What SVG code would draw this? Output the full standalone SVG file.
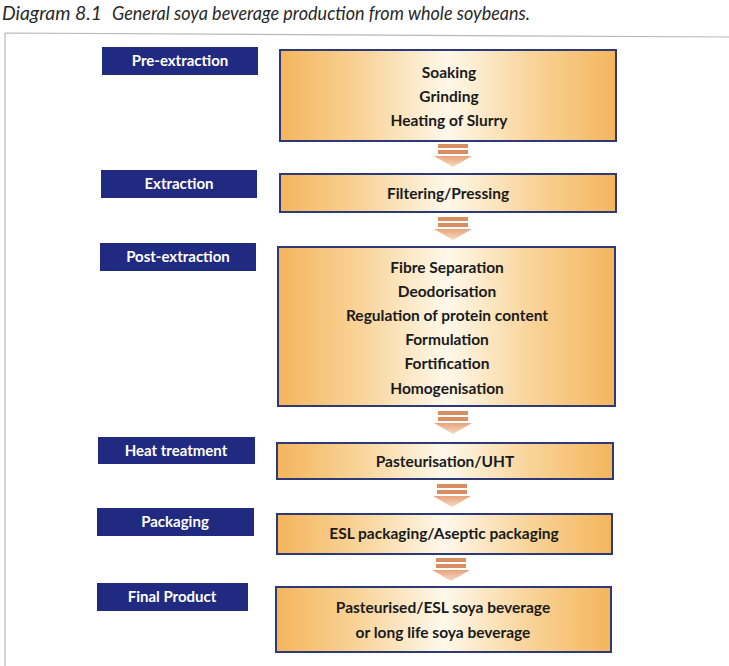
<svg xmlns="http://www.w3.org/2000/svg" width="729" height="666" viewBox="0 0 729 666">
<defs>
<linearGradient id="g" x1="0" y1="0" x2="1" y2="0">
<stop offset="0" stop-color="#f4b55c"/>
<stop offset="0.25" stop-color="#f9d49a"/>
<stop offset="0.5" stop-color="#fef8ea"/>
<stop offset="0.75" stop-color="#f9d49a"/>
<stop offset="1" stop-color="#f4b55c"/>
</linearGradient>
<linearGradient id="ag" x1="0" y1="0" x2="0" y2="1">
<stop offset="0" stop-color="#e8a27a"/>
<stop offset="1" stop-color="#f6dcc4"/>
</linearGradient>
<g id="arrow">
<rect x="-15" y="0" width="30" height="4" fill="#d98e62"/>
<rect x="-15" y="6" width="30" height="4" fill="#d98e62"/>
<polygon points="-19,12 19,12 0,23" fill="url(#ag)"/>
</g>
</defs>
<style>
.lab rect{fill:#1f2a80}
.lab text{fill:#fff;font-family:Lato,"Liberation Sans",sans-serif;font-weight:bold;font-size:15px;text-anchor:middle}
.box rect{fill:url(#g);stroke:#2e3a78;stroke-width:2}
.box text{fill:#1a1a1a;font-family:Lato,"Liberation Sans",sans-serif;font-weight:bold;font-size:15.5px;text-anchor:middle}
.title{font-family:Lato,"Liberation Sans",sans-serif;font-style:italic;font-size:18.5px;fill:#2a2a2a}
</style>
<rect width="729" height="666" fill="#ffffff"/>
<g id="title">
<text class="title" x="2" y="20" textLength="100" lengthAdjust="spacingAndGlyphs">Diagram 8.1</text>
<text class="title" x="112" y="20" textLength="418" lengthAdjust="spacingAndGlyphs">General soya beverage production from whole soybeans.</text>
</g>
<path d="M5 33 L729 37 M5 33 L5 666" stroke="#b8b8b8" stroke-width="1.2" fill="none"/>

<g id="label-pre" class="lab"><rect x="102" y="47" width="156" height="28"/><text x="180" y="66">Pre-extraction</text></g>
<g id="label-ext" class="lab"><rect x="101" y="170" width="156" height="28"/><text x="179" y="189">Extraction</text></g>
<g id="label-post" class="lab"><rect x="100" y="243" width="156" height="28"/><text x="178" y="262">Post-extraction</text></g>
<g id="label-heat" class="lab"><rect x="98" y="437" width="157" height="27"/><text x="176" y="456">Heat treatment</text></g>
<g id="label-pack" class="lab"><rect x="97" y="508" width="157" height="28"/><text x="175" y="527">Packaging</text></g>
<g id="label-final" class="lab"><rect x="97" y="583" width="151" height="28"/><text x="172" y="602">Final Product</text></g>

<g id="box-pre" class="box"><rect x="280" y="50" width="336" height="91"/>
<text x="449" y="78">Soaking</text><text x="449" y="102">Grinding</text><text x="449" y="126">Heating of Slurry</text></g>
<g id="box-ext" class="box"><rect x="280" y="174" width="336" height="38"/>
<text x="448" y="199">Filtering/Pressing</text></g>
<g id="box-post" class="box"><rect x="278" y="247" width="337" height="159"/>
<text x="447" y="273">Fibre Separation</text><text x="447" y="297">Deodorisation</text><text x="447" y="321">Regulation of protein content</text><text x="447" y="345">Formulation</text><text x="447" y="369">Fortification</text><text x="447" y="394">Homogenisation</text></g>
<g id="box-heat" class="box"><rect x="277" y="443" width="336" height="36"/>
<text x="445" y="467">Pasteurisation/UHT</text></g>
<g id="box-pack" class="box"><rect x="277" y="514" width="335" height="40"/>
<text x="444" y="539">ESL packaging/Aseptic packaging</text></g>
<g id="box-final" class="box"><rect x="276" y="587" width="335" height="65"/>
<text x="443" y="613">Pasteurised/ESL soya beverage</text><text x="443" y="638">or long life soya beverage</text></g>

<g id="connectors">
<use href="#arrow" x="453" y="144"/>
<use href="#arrow" x="453" y="217"/>
<use href="#arrow" x="453" y="411"/>
<use href="#arrow" x="452" y="484"/>
<use href="#arrow" x="451" y="558"/>
</g>
</svg>
